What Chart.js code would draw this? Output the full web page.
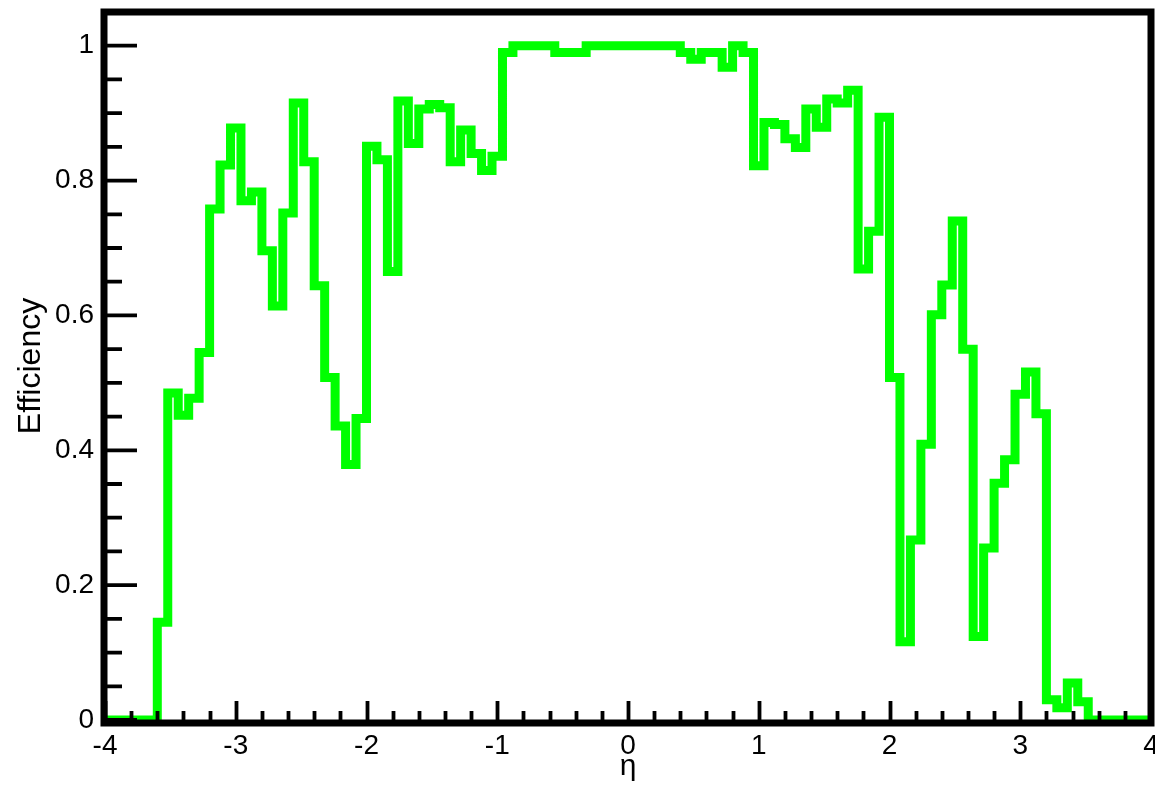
<!DOCTYPE html>
<html>
<head>
<meta charset="utf-8">
<title>Efficiency vs eta</title>
<script src="https://cdn.jsdelivr.net/npm/chart.js@4.4.1/dist/chart.umd.min.js"></script>
<style>
  html, body { margin: 0; padding: 0; background: #ffffff; }
  #wrap { position: relative; width: 1155px; height: 785px; }
</style>
</head>
<body>
<div id="wrap"><canvas id="c" width="1155" height="785"></canvas></div>
<script>
// Histogram range: 100 equal bins over eta in [-4, 4]
const etaMin = -4;
const etaMax = 4;

// Efficiency in each eta bin, left to right (10 bins per row)
const efficiency = [
  0.000, 0.000, 0.000, 0.000, 0.000, 0.145, 0.485, 0.452, 0.477, 0.545,
  0.758, 0.823, 0.878, 0.770, 0.783, 0.696, 0.614, 0.752, 0.915, 0.828,
  0.644, 0.508, 0.436, 0.379, 0.447, 0.851, 0.831, 0.665, 0.918, 0.855,
  0.906, 0.913, 0.908, 0.828, 0.875, 0.840, 0.815, 0.836, 0.990, 1.000,
  1.000, 1.000, 1.000, 0.990, 0.990, 0.990, 1.000, 1.000, 1.000, 1.000,
  1.000, 1.000, 1.000, 1.000, 1.000, 0.990, 0.980, 0.990, 0.990, 0.968,
  1.000, 0.990, 0.822, 0.886, 0.883, 0.862, 0.849, 0.906, 0.879, 0.921,
  0.915, 0.934, 0.669, 0.725, 0.894, 0.508, 0.116, 0.267, 0.409, 0.601,
  0.645, 0.740, 0.550, 0.124, 0.255, 0.351, 0.386, 0.483, 0.516, 0.454,
  0.030, 0.018, 0.055, 0.027, 0.000, 0.000, 0.000, 0.000, 0.000, 0.000
];

// Labelled axis ticks
const xTickValues = [-4, -3, -2, -1, 0, 1, 2, 3, 4];
const yTickValues = [0, 0.2, 0.4, 0.6, 0.8, 1];

const yMax = 1.05;

// Step outline: one point at each bin's lower edge, plus the closing edge
const binWidth = (etaMax - etaMin) / efficiency.length;
const stepPoints = efficiency.map((v, i) => ({ x: etaMin + i * binWidth, y: v }));
stepPoints.push({ x: etaMax, y: efficiency[efficiency.length - 1] });

const FONT = "'Liberation Sans', Arial, Helvetica, sans-serif";

// Thick frame with inward-pointing major/minor ticks, drawn over the histogram
const frameAndTicks = {
  id: 'frameAndTicks',
  afterDatasetsDraw(chart) {
    const { ctx, chartArea: a, scales } = chart;
    const xs = scales.x, ys = scales.y;
    ctx.save();
    ctx.strokeStyle = '#000000';
    ctx.lineCap = 'butt';
    ctx.lineWidth = 3.8;
    ctx.beginPath();
    // x axis: minor every 0.2, major every 1
    for (let i = 0; i <= 40; i++) {
      const v = etaMin + i * 0.2;
      const px = Math.round(xs.getPixelForValue(v)) + 0.5;
      const len = (i % 5 === 0) ? 19 : 9;
      ctx.moveTo(px, a.bottom);
      ctx.lineTo(px, a.bottom - len);
    }
    // y axis: minor every 0.05, major every 0.2
    for (let i = 0; i <= 20; i++) {
      const v = i * 0.05;
      const py = ys.getPixelForValue(v);
      const len = (i % 4 === 0) ? 32 : 17;
      ctx.moveTo(a.left, py);
      ctx.lineTo(a.left + len, py);
    }
    ctx.stroke();

    ctx.lineWidth = 7;
    ctx.lineJoin = 'miter';
    ctx.strokeRect(a.left - 1, a.top, a.right - a.left + 1, a.bottom - a.top + 3);
    ctx.restore();
  }
};

// Keep the plot frame fixed regardless of how far the end labels overhang
const noOverhang = (s) => {
  s.paddingLeft = 0; s.paddingRight = 0;
  s.paddingTop = 0; s.paddingBottom = 0;
};

new Chart(document.getElementById('c').getContext('2d'), {
  type: 'line',
  data: {
    datasets: [{
      label: 'Efficiency',
      data: stepPoints,
      stepped: 'before',
      borderColor: '#00ff00',
      borderWidth: 9,
      borderJoinStyle: 'miter',
      borderCapStyle: 'butt',
      pointRadius: 0,
      fill: false,
      tension: 0
    }]
  },
  options: {
    responsive: false,
    animation: false,
    events: [],
    layout: { padding: { left: 0, right: 4, top: 12, bottom: 0 } },
    plugins: {
      legend: { display: false },
      tooltip: { enabled: false }
    },
    scales: {
      x: {
        type: 'linear',
        min: etaMin,
        max: etaMax,
        afterBuildTicks: (s) => { s.ticks = xTickValues.map(v => ({ value: v })); },
        afterFit: (s) => { s.height = 65; noOverhang(s); },
        grid: { display: false, drawTicks: false },
        border: { display: false },
        ticks: {
          autoSkip: false,
          maxRotation: 0,
          padding: 9,
          color: '#000000',
          font: { family: FONT, size: 28 },
          callback: (v) => String(v)
        },
        title: {
          display: true,
          text: 'η',
          color: '#000000',
          font: { family: FONT, size: 30 },
          padding: { top: 0, bottom: 0 }
        }
      },
      y: {
        type: 'linear',
        min: 0,
        max: yMax,
        afterBuildTicks: (s) => { s.ticks = yTickValues.map(v => ({ value: v })); },
        afterFit: (s) => { s.width = 105; noOverhang(s); },
        grid: { display: false, drawTicks: false },
        border: { display: false },
        ticks: {
          padding: 11,
          color: '#000000',
          font: { family: FONT, size: 28 },
          callback: (v) => String(v)
        },
        title: {
          display: true,
          text: 'Efficiency',
          color: '#000000',
          font: { family: FONT, size: 32 },
          padding: { top: 12, bottom: 0 }
        }
      }
    }
  },
  plugins: [frameAndTicks]
});
</script>
</body>
</html>
